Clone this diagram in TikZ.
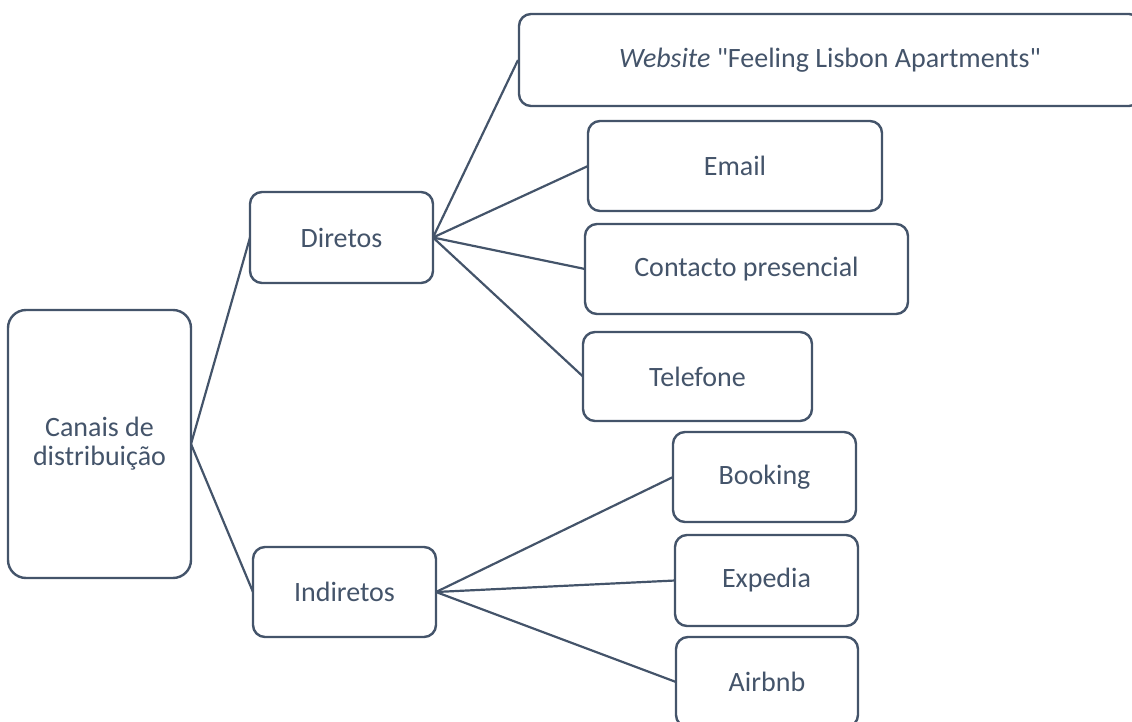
\documentclass[tikz,border=0pt]{standalone}
\usepackage{fontspec}
\setmainfont{Carlito}[Ligatures=TeXOff]
\definecolor{slate}{HTML}{44546A}
\begin{document}
\begin{tikzpicture}[x=1pt,y=-1pt,
  box/.style={draw=slate,line width=2.4pt,rounded corners=12pt,fill=white,
    text=slate,inner sep=0pt,align=center,font=\fontsize{28}{29}\selectfont},
  link/.style={draw=slate,line width=2.2pt}]
\useasboundingbox (0,0) rectangle (1132,722);
\clip (0,0) rectangle (1132,722);
% connectors first
\coordinate (cR) at (191,444);
\coordinate (dL) at (250,237.5);
\coordinate (dR) at (433,237.5);
\coordinate (iL) at (253,592);
\coordinate (iR) at (436,592);
\coordinate (wL) at (518,60);
\coordinate (eL) at (588,166);
\coordinate (pL) at (585,269);
\coordinate (tL) at (583,376.5);
\coordinate (bL) at (673,477);
\coordinate (xL) at (675,580.5);
\coordinate (aL) at (676,682);
\draw[link] (cR) -- (dL);
\draw[link] (cR) -- (iL);
\draw[link] (dR) -- (wL);
\draw[link] (dR) -- (eL);
\draw[link] (dR) -- (pL);
\draw[link] (dR) -- (tL);
\draw[link] (iR) -- (bL);
\draw[link] (iR) -- (xL);
\draw[link] (iR) -- (aL);
% nodes
\node[box,rounded corners=18pt,minimum width=183pt,minimum height=268pt] (canais) at (99.5,444) {Canais de\\distribuição};
\node[box,minimum width=183pt,minimum height=91pt] (diretos) at (341.5,237.5) {Diretos};
\node[box,minimum width=183pt,minimum height=90pt] (indiretos) at (344.5,592) {Indiretos};
\node[box,minimum width=622pt,minimum height=92pt] (website) at (830,60) {\textit{Website} "Feeling Lisbon Apartments"};
\node[box,minimum width=294pt,minimum height=90pt] (email) at (735,166) {Email};
\node[box,minimum width=323pt,minimum height=90pt] (contacto) at (746.5,269) {Contacto presencial};
\node[box,minimum width=229pt,minimum height=89pt] (telefone) at (697.5,376.5) {Telefone};
\node[box,minimum width=183pt,minimum height=90pt] (booking) at (764.5,477) {Booking};
\node[box,minimum width=183pt,minimum height=91pt] (expedia) at (766.5,580.5) {Expedia};
\node[box,minimum width=182pt,minimum height=90pt] (airbnb) at (767,682) {Airbnb};
\end{tikzpicture}
\end{document}
